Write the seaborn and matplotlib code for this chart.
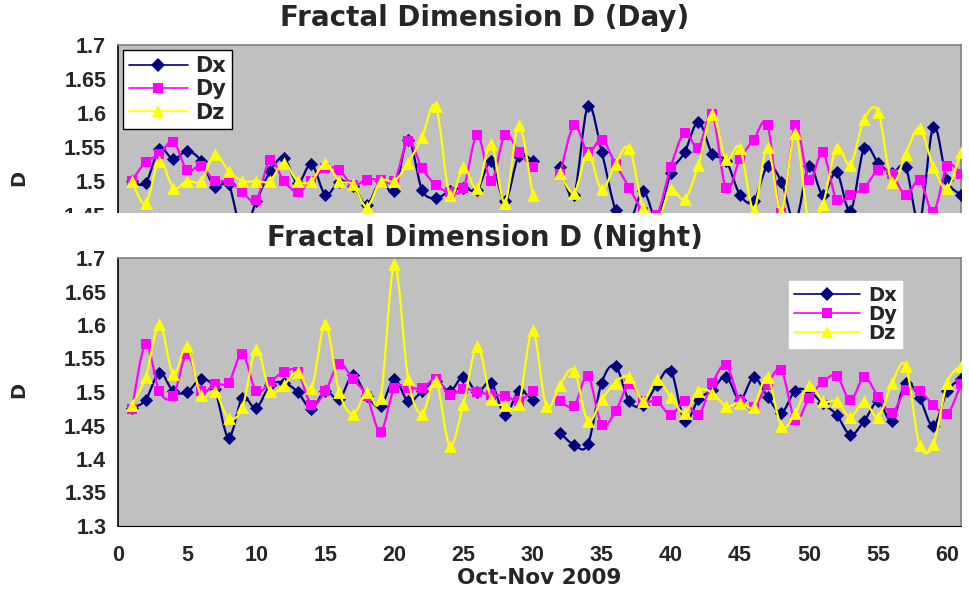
import numpy as np
import matplotlib
matplotlib.use("Agg")
import matplotlib.pyplot as plt
from matplotlib.path import Path
from matplotlib.patches import PathPatch, Rectangle
from matplotlib.lines import Line2D
import seaborn as sns

nan = np.nan
days = list(range(1, 62))

# Day readings
day_dx = [1.500, 1.497, 1.547, 1.532, 1.544, 1.530, 1.491, 1.495, 1.425, 1.470,
          1.514, 1.534, 1.497, 1.525, 1.480, 1.499, 1.493, 1.465, 1.500, 1.485,
          1.561, 1.487, 1.475, 1.485, 1.490, 1.487, 1.529, 1.470, 1.537, 1.529,
          nan, 1.521, 1.480, 1.610, 1.543, 1.458, 1.440, 1.485, 1.445, 1.512,
          1.542, 1.587, 1.540, 1.530, 1.480, 1.470, 1.522, 1.499, 1.440, 1.522,
          1.480, 1.513, 1.456, 1.549, 1.527, 1.512, 1.520, 1.440, 1.580, 1.501,
          1.480]
day_dy = [1.500, 1.528, 1.539, 1.558, 1.516, 1.522, 1.500, 1.500, 1.484, 1.472,
          1.531, 1.500, 1.484, 1.500, 1.519, 1.516, 1.494, 1.502, 1.502, 1.500,
          1.559, 1.519, 1.494, 1.484, 1.490, 1.568, 1.500, 1.568, 1.542, 1.520,
          nan, 1.511, 1.582, 1.542, 1.561, 1.525, 1.490, 1.455, 1.450, 1.521,
          1.571, 1.549, 1.598, 1.489, 1.532, 1.561, 1.582, 1.453, 1.582, 1.501,
          1.542, 1.472, 1.480, 1.490, 1.516, 1.510, 1.479, 1.501, 1.455, 1.522,
          1.511]
day_dz = [1.500, 1.467, 1.530, 1.490, 1.500, 1.500, 1.539, 1.515, 1.500, 1.500,
          1.500, 1.527, 1.500, 1.500, 1.527, 1.500, 1.495, 1.462, 1.500, 1.500,
          1.527, 1.564, 1.610, 1.480, 1.520, 1.489, 1.555, 1.468, 1.582, 1.480,
          nan, 1.512, 1.483, 1.540, 1.488, 1.525, 1.548, 1.460, 1.440, 1.488,
          1.473, 1.524, 1.598, 1.532, 1.549, 1.458, 1.550, 1.455, 1.570, 1.440,
          1.466, 1.549, 1.524, 1.591, 1.602, 1.499, 1.540, 1.578, 1.521, 1.489,
          1.543]

# Night readings
night_dx = [1.476, 1.488, 1.529, 1.501, 1.500, 1.519, 1.504, 1.432, 1.491, 1.476,
            1.510, 1.514, 1.500, 1.475, 1.502, 1.489, 1.525, 1.494, 1.479, 1.519,
            1.486, 1.501, 1.517, 1.501, 1.523, 1.500, 1.514, 1.466, 1.501, 1.488,
            nan, 1.439, 1.421, 1.422, 1.514, 1.539, 1.486, 1.480, 1.511, 1.532,
            1.457, 1.489, 1.503, 1.523, 1.488, 1.522, 1.493, 1.469, 1.502, 1.501,
            1.483, 1.466, 1.436, 1.457, 1.486, 1.457, 1.514, 1.491, 1.449, 1.501,
            1.520]
night_dy = [1.474, 1.571, 1.501, 1.494, 1.557, 1.501, 1.512, 1.514, 1.557, 1.501,
            1.515, 1.530, 1.530, 1.481, 1.501, 1.542, 1.519, 1.494, 1.441, 1.506,
            1.506, 1.506, 1.519, 1.496, 1.505, 1.500, 1.496, 1.494, 1.487, 1.501,
            nan, 1.486, 1.479, 1.524, 1.451, 1.471, 1.512, 1.486, 1.486, 1.466,
            1.486, 1.466, 1.513, 1.540, 1.487, 1.478, 1.511, 1.533, 1.458, 1.491,
            1.515, 1.524, 1.488, 1.522, 1.493, 1.469, 1.503, 1.501, 1.481, 1.467,
            1.512]
night_dz = [1.481, 1.522, 1.601, 1.527, 1.569, 1.495, 1.501, 1.461, 1.477, 1.564,
            1.501, 1.511, 1.530, 1.506, 1.601, 1.500, 1.467, 1.500, 1.491, 1.691,
            1.519, 1.467, 1.517, 1.420, 1.482, 1.569, 1.490, 1.481, 1.482, 1.592,
            1.479, 1.511, 1.532, 1.457, 1.489, 1.514, 1.523, 1.487, 1.519, 1.492,
            1.469, 1.502, 1.499, 1.479, 1.484, 1.478, 1.523, 1.449, 1.468, 1.511,
            1.486, 1.486, 1.463, 1.486, 1.463, 1.513, 1.539, 1.421, 1.422, 1.514,
            1.539]

series_names = ["Dx", "Dy", "Dz"]
colors = ["#000080", "#FF00FF", "#FFFF00"]
markers = ["D", "s", "^"]
marker_sizes = [45, 58, 85]
tick_font = "Liberation Sans"
wide_font = "DejaVu Sans"
tick_size = 15.5
title_size = 20
legend_size = 15


def smooth_line(ax, x, y, color, z):
    # Excel style smoothed line: Bezier segments through each run of points.
    x = np.asarray(x, float)
    y = np.asarray(y, float)
    ok = np.isfinite(y)
    runs = []
    start = None
    for k in range(len(y)):
        if ok[k] and start is None:
            start = k
        if (not ok[k] or k == len(y) - 1) and start is not None:
            end = k if not ok[k] else k + 1
            runs.append((start, end))
            start = None
    for a, b in runs:
        pts = np.column_stack([x[a:b], y[a:b]])
        n = len(pts)
        if n < 2:
            continue
        verts = [pts[0]]
        codes = [Path.MOVETO]
        for k in range(n - 1):
            p0 = pts[max(k - 1, 0)]
            p1 = pts[k]
            p2 = pts[k + 1]
            p3 = pts[min(k + 2, n - 1)]
            verts += [p1 + (p2 - p0) / 6, p2 - (p3 - p1) / 6, p2]
            codes += [Path.CURVE4] * 3
        ax.add_patch(PathPatch(Path(verts, codes), fill=False, edgecolor=color,
                               lw=1.6, zorder=z, capstyle="round", joinstyle="round"))


def draw_panel(ax, values, ylim, yticks):
    ax.set_facecolor("#C0C0C0")
    for i, vals in enumerate(values):
        smooth_line(ax, days, vals, colors[i], 2 + i * 2)
        sns.scatterplot(x=days, y=vals, ax=ax, marker=markers[i], s=marker_sizes[i],
                        color=colors[i], edgecolor=colors[i], linewidth=0, zorder=3 + i * 2)
    ax.set_xlim(0, 61)
    ax.set_ylim(*ylim)
    ax.set_yticks(yticks)
    ax.set_yticklabels([f"{v:g}" for v in yticks], fontsize=tick_size, fontweight="bold",
                       family=tick_font)
    ax.set_xlabel("")
    ax.set_ylabel("")
    ax.tick_params(axis="y", direction="out", length=5, width=1, pad=3.5, color="black")
    for side in ["top", "right"]:
        ax.spines[side].set_color("#808080")
        ax.spines[side].set_linewidth(1.2)
    ax.spines["left"].set_color("black")
    ax.spines["left"].set_linewidth(1.2)
    ax.spines["bottom"].set_color("black")


def legend_handles():
    return [Line2D([0], [0], color=colors[i], marker=markers[i], lw=1.2,
                   markersize=[7, 7.5, 9][i], markeredgewidth=0) for i in range(3)]


def main():
    sns.set_style("white")
    plt.rcParams["font.family"] = [wide_font]

    fig = plt.figure(figsize=(9.69, 5.9), dpi=100)
    ax1 = fig.add_axes([118 / 969, 1 - 215 / 590, 843 / 969, 170 / 590])
    ax2 = fig.add_axes([118 / 969, 1 - 526 / 590, 843 / 969, 268 / 590])

    # Day panel
    draw_panel(ax1, [day_dx, day_dy, day_dz], (1.45, 1.7), [1.45, 1.5, 1.55, 1.6, 1.65, 1.7])
    ax1.set_xticks([])
    ax1.spines["bottom"].set_visible(False)
    leg1 = ax1.legend(legend_handles(), series_names, loc="upper left",
                      bbox_to_anchor=(0.006, 0.97), borderaxespad=0, fancybox=False,
                      handlelength=2.8, handletextpad=0.35, labelspacing=0.15,
                      borderpad=0.3, prop={"family": wide_font, "weight": "bold", "size": legend_size})
    leg1.get_frame().set_edgecolor("black")
    leg1.get_frame().set_linewidth(1.0)
    leg1.get_frame().set_alpha(1)
    leg1.set_zorder(20)

    # Night panel
    draw_panel(ax2, [night_dx, night_dy, night_dz], (1.3, 1.7),
               [1.3, 1.35, 1.4, 1.45, 1.5, 1.55, 1.6, 1.65, 1.7])
    ax2.set_xticks(range(0, 61, 5))
    ax2.set_xticklabels([str(v) for v in range(0, 61, 5)], fontsize=tick_size,
                        fontweight="bold", family=tick_font)
    ax2.tick_params(axis="x", direction="out", length=5, width=1, pad=9, color="black")
    leg2 = ax2.legend(legend_handles(), series_names, loc="upper left",
                      bbox_to_anchor=(0.796, 0.914), borderaxespad=0, fancybox=False,
                      handlelength=3.4, handletextpad=0.4, labelspacing=0.0,
                      borderpad=0.25, prop={"family": wide_font, "weight": "bold", "size": 14})
    leg2.get_frame().set_edgecolor("white")
    leg2.get_frame().set_alpha(1)
    leg2.set_zorder(20)

    # The night chart sits over the bottom of the day chart.
    fig.patches.append(Rectangle((0, 1 - 249 / 590), 1, 36 / 590, transform=fig.transFigure,
                                 facecolor="white", edgecolor="none", zorder=10))

    fig.text(0.5, 1 - 18 / 590, "Fractal Dimension D (Day)", ha="center", va="center",
             fontsize=title_size, fontweight="bold", zorder=11)
    fig.text(0.5, 1 - 238 / 590, "Fractal Dimension D (Night)", ha="center", va="center",
             fontsize=title_size, fontweight="bold", zorder=11)
    fig.text(19 / 969, 1 - 178 / 590, "D", rotation=90, ha="center", va="center",
             fontsize=14, fontweight="bold")
    fig.text(19 / 969, 1 - 390 / 590, "D", rotation=90, ha="center", va="center",
             fontsize=14, fontweight="bold")
    fig.text(539.5 / 969, 1 - 578 / 590, "Oct-Nov 2009", ha="center", va="center",
             fontsize=15.5, fontweight="bold")

    fig.savefig("out.png", dpi=100, facecolor="white")


if __name__ == "__main__":
    main()
